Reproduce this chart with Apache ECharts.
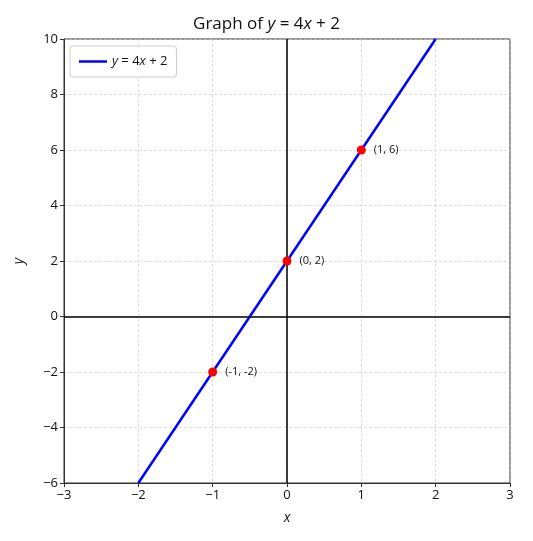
<!DOCTYPE html>
<html><head><meta charset="utf-8">
<script src="https://cdn.jsdelivr.net/npm/echarts@6/dist/echarts.min.js"></script>
<style>html,body{margin:0;padding:0;background:#fff}#c{width:533px;height:541px}</style>
</head><body><div id="c"></div>
<script>
const lineX = [-2, 2];
const lineY = [-6, 10];
const pointsX = [-1, 0, 1];
const pointsY = [-2, 2, 6];
const pointLabels = ['(-1, -2)', '(0, 2)', '(1, 6)'];
const xTicks = [-3, -2, -1, 0, 1, 2, 3];
const yTicks = [-6, -4, -2, 0, 2, 4, 6, 8, 10];

const font = 'Open Sans';
const chart = echarts.init(document.getElementById('c'));
const fmt = v => (v < 0 ? '\u2212' + Math.abs(v) : String(v));
chart.setOption({
  animation: false,
  title: {
    text: '{n|Graph of }{i|y}{n| = 4}{i|x}{n| + 2}',
    left: 'center', top: 11,
    textStyle: {
      rich: {
        n: {fontFamily: font, fontSize: 17, color: '#111', fontWeight: 'normal'},
        i: {fontFamily: font, fontSize: 17, color: '#111', fontStyle: 'italic', fontWeight: 'normal'}
      }
    }
  },
  legend: {
    left: 70, top: 46,
    data: [{name: 'line', icon: 'rect'}],
    itemWidth: 28, itemHeight: 2.5, itemGap: 10,
    padding: [9, 9, 9, 9],
    borderColor: '#ccc', borderWidth: 1, borderRadius: 3,
    backgroundColor: '#fff',
    formatter: () => '{i|y}{n| = 4}{i|x}{n| + 2}',
    textStyle: {
      rich: {
        n: {fontFamily: font, fontSize: 13, color: '#111'},
        i: {fontFamily: font, fontSize: 13, color: '#111', fontStyle: 'italic'}
      }
    }
  },
  grid: {left: 64, right: 23, top: 39, bottom: 58, show: true, borderColor: '#333', borderWidth: 1, backgroundColor: 'transparent'},
  xAxis: {
    type: 'value', min: -3, max: 3, interval: 1,
    name: 'x', nameLocation: 'middle', nameGap: 28,
    nameTextStyle: {fontFamily: font, fontSize: 14, fontStyle: 'italic', color: '#111'},
    axisLine: {show: true, onZero: false, lineStyle: {color: '#333'}},
    axisTick: {show: true, length: 4, lineStyle: {color: '#333'}},
    axisLabel: {fontFamily: font, fontSize: 13, color: '#111', formatter: fmt, margin: 6},
    splitLine: {show: true, lineStyle: {color: '#c8c8c8', type: [3, 2], width: 0.6}}
  },
  yAxis: {
    type: 'value', min: -6, max: 10, interval: 2,
    name: 'y', nameLocation: 'middle', nameGap: 38, nameRotate: 90,
    nameTextStyle: {fontFamily: font, fontSize: 14, fontStyle: 'italic', color: '#111'},
    axisLine: {show: true, onZero: false, lineStyle: {color: '#333'}},
    axisTick: {show: true, length: 4, lineStyle: {color: '#333'}},
    axisLabel: {fontFamily: font, fontSize: 13, color: '#111', formatter: fmt, margin: 6},
    splitLine: {show: true, lineStyle: {color: '#c8c8c8', type: [3, 2], width: 0.6}}
  },
  series: [
    {
      name: 'zero', type: 'line', data: [], silent: true,
      markLine: {
        symbol: 'none', silent: true, animation: false,
        label: {show: false},
        lineStyle: {color: '#000', type: 'solid', width: 1.5},
        data: [{xAxis: 0}, {yAxis: 0}]
      }
    },
    {
      name: 'line', type: 'line', showSymbol: false,
      data: lineX.map((x, i) => [x, lineY[i]]),
      lineStyle: {color: '#0000ff', width: 2.5},
      itemStyle: {color: '#0000ff'}
    },
    {
      name: 'pts', type: 'scatter', symbolSize: 9,
      data: pointsX.map((x, i) => ({value: [x, pointsY[i]], label: {formatter: pointLabels[i]}})),
      itemStyle: {color: '#ff0000', opacity: 1},
      label: {show: true, position: 'right', distance: 8, fontFamily: font, fontSize: 11, color: '#111'},
      z: 5
    }
  ]
});
</script></body></html>
